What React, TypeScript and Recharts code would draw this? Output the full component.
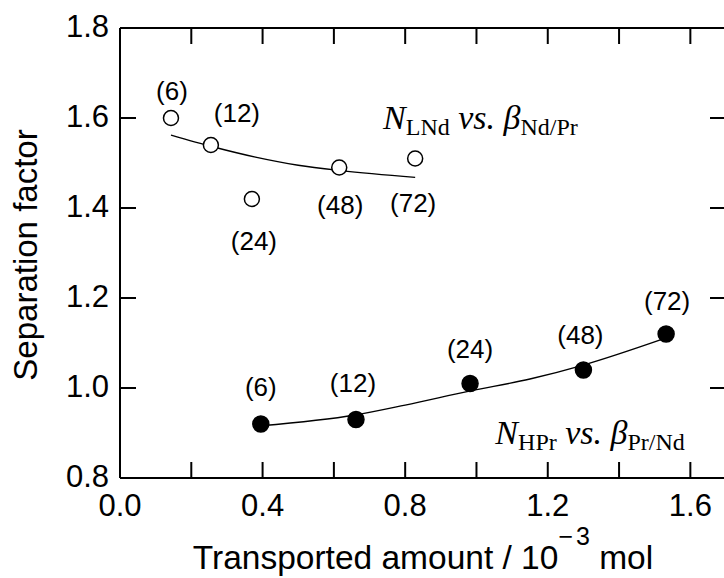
import React from 'react';
import {
  ComposedChart,
  XAxis,
  YAxis,
  Scatter,
  Line,
  ReferenceDot,
  ReferenceLine,
  Label,
} from 'recharts';

// Contact time (h) for each measurement
const hours = [6, 12, 24, 48, 72];

// N_LNd vs. beta_Nd/Pr (open circles)
const lndAmount = [0.143, 0.255, 0.37, 0.615, 0.828];
const ndPrFactor = [1.6, 1.54, 1.42, 1.49, 1.51];

// N_HPr vs. beta_Pr/Nd (filled circles)
const hprAmount = [0.395, 0.662, 0.982, 1.3, 1.532];
const prNdFactor = [0.92, 0.93, 1.01, 1.04, 1.12];

// Trend curves drawn through each set
const lndFitAmount = [0.143, 0.26, 0.38, 0.5, 0.62, 0.828];
const lndFitFactor = [1.562, 1.536, 1.513, 1.495, 1.483, 1.468];
const hprFitAmount = [0.395, 0.66, 0.8, 0.98, 1.15, 1.3, 1.52];
const hprFitFactor = [0.916, 0.94, 0.962, 0.993, 1.02, 1.051, 1.108];

// Axis ticks
const xTicks = [0, 0.2, 0.4, 0.6, 0.8, 1.0, 1.2, 1.4, 1.6];
const xTickLabels = [0, 0.4, 0.8, 1.2, 1.6];
const yTicks = [0.8, 1.0, 1.2, 1.4, 1.6, 1.8];
const X_MAX = 1.7;
const Y_MIN = 0.8;
const Y_MAX = 1.8;

// Placement of the "(h)" tags around each marker: [dx, dy to baseline]
const lndTagShift = [
  [1, -18],
  [26, -23],
  [2, 51],
  [1, 46],
  [-2, 53],
];
const hprTagShift = [
  [0, -28],
  [-3, -28],
  [0, -26],
  [-3, -26],
  [1, -24],
];

// Chart layout
const CHART_W = 740;
const CHART_H = 578;
const TOP = 28;
const RIGHT = 14;
const X_AXIS_H = 100;
const Y_AXIS_W = 120;
const PLOT_W = CHART_W - Y_AXIS_W - RIGHT;
const PLOT_H = CHART_H - TOP - X_AXIS_H;
const TICK = 16;

const SANS = '"Liberation Sans", Arial, Helvetica, sans-serif';
const SERIF = '"Liberation Serif", "Times New Roman", serif';

const toPoints = (xs: number[], ys: number[]) =>
  xs.map((x, i) => ({ x, y: ys[i] }));

const toTagged = (xs: number[], ys: number[], shift: number[][]) =>
  xs.map((x, i) => ({
    x,
    y: ys[i],
    tag: `(${hours[i]})`,
    dx: shift[i][0],
    dy: shift[i][1],
  }));

const lndPoints = toTagged(lndAmount, ndPrFactor, lndTagShift);
const hprPoints = toTagged(hprAmount, prNdFactor, hprTagShift);
const lndFit = toPoints(lndFitAmount, lndFitFactor);
const hprFit = toPoints(hprFitAmount, hprFitFactor);

const makeMarker = (filled: boolean) => (props: any) => {
  const { cx, cy, payload } = props;
  return (
    <g>
      <circle
        cx={cx}
        cy={cy}
        r={filled ? 8 : 7.5}
        fill={filled ? '#000' : '#fff'}
        stroke="#000"
        strokeWidth={1.5}
      />
      <text
        x={cx + payload.dx}
        y={cy + payload.dy}
        textAnchor="middle"
        fontFamily={SANS}
        fontSize={26}
        fill="#000"
      >
        {payload.tag}
      </text>
    </g>
  );
};

// Bottom axis tick: inward marks on the bottom and top frame edges, label below
const XTick = (props: any) => {
  const { x, y, payload } = props;
  const v = payload.value as number;
  const labelled = xTickLabels.some((t) => Math.abs(t - v) < 1e-6);
  return (
    <g>
      <line x1={x} y1={y} x2={x} y2={y - TICK} stroke="#000" strokeWidth={2} />
      <line x1={x} y1={y - PLOT_H} x2={x} y2={y - PLOT_H + TICK} stroke="#000" strokeWidth={2} />
      {labelled && (
        <text x={x} y={y + 38} textAnchor="middle" fontFamily={SANS} fontSize={31} fill="#000">
          {v.toFixed(1)}
        </text>
      )}
    </g>
  );
};

// Left axis tick: inward marks on the left and right frame edges, label to the left
const YTick = (props: any) => {
  const { x, y, payload } = props;
  return (
    <g>
      <line x1={x} y1={y} x2={x + TICK} y2={y} stroke="#000" strokeWidth={2} />
      <line x1={x + PLOT_W} y1={y} x2={x + PLOT_W - TICK} y2={y} stroke="#000" strokeWidth={2} />
      <text x={x - 11} y={y + 8.5} textAnchor="end" fontFamily={SANS} fontSize={31} fill="#000">
        {(payload.value as number).toFixed(1)}
      </text>
    </g>
  );
};

const XTitle = (props: any) => {
  const { x, y, width } = props.viewBox;
  return (
    <text
      x={x + width / 2}
      y={y + 91}
      textAnchor="middle"
      fontFamily={SANS}
      fontSize={33.5}
      fill="#000"
      style={{ whiteSpace: 'pre' }}
    >
      <tspan>Transported amount / 10</tspan>
      <tspan fontSize={25} dy={-24}>−</tspan>
      <tspan fontSize={25} dx={3}>3</tspan>
      <tspan dy={24}> mol</tspan>
    </text>
  );
};

const YTitle = (props: any) => {
  const { y, height } = props.viewBox;
  const cx = 37;
  const cy = y + height / 2 + 2;
  return (
    <text
      x={cx}
      y={cy}
      transform={`rotate(-90, ${cx}, ${cy})`}
      textAnchor="middle"
      fontFamily={SANS}
      fontSize={33}
      fill="#000"
    >
      Separation factor
    </text>
  );
};

const Caption = ({ cx, cy, subject, ratio }: any) => (
  <text x={cx} y={cy} fontFamily={SERIF} fontSize={34} fill="#000" style={{ whiteSpace: 'pre' }}>
    <tspan fontStyle="italic">N</tspan>
    <tspan fontSize={24} dy={6}>{subject}</tspan>
    <tspan fontStyle="italic" dy={-6}> vs. </tspan>
    <tspan fontStyle="italic">β</tspan>
    <tspan fontSize={24} dy={6}>{ratio}</tspan>
  </text>
);

const axisLine = { stroke: '#000', strokeWidth: 2 };

export default function App() {
  return (
    <div
      style={{
        position: 'absolute',
        left: 0,
        top: 0,
        width: 724,
        height: 578,
        overflow: 'hidden',
        background: '#fff',
      }}
    >
      <ComposedChart
        width={CHART_W}
        height={CHART_H}
        margin={{ top: TOP, right: RIGHT, bottom: 0, left: 0 }}
      >
        <XAxis
          xAxisId="bottom"
          type="number"
          dataKey="x"
          domain={[0, X_MAX]}
          ticks={xTicks}
          height={X_AXIS_H}
          tickSize={0}
          tickMargin={0}
          axisLine={axisLine}
          tickLine={false}
          tick={<XTick />}
        >
          <Label content={<XTitle />} />
        </XAxis>
        <YAxis
          yAxisId="left"
          type="number"
          dataKey="y"
          domain={[Y_MIN, Y_MAX]}
          ticks={yTicks}
          width={Y_AXIS_W}
          tickSize={0}
          tickMargin={0}
          axisLine={axisLine}
          tickLine={false}
          tick={<YTick />}
        >
          <Label content={<YTitle />} />
        </YAxis>

        {/* top and right edges of the frame */}
        <ReferenceLine xAxisId="bottom" yAxisId="left" y={Y_MAX} stroke="#000" strokeWidth={2} />
        <ReferenceLine xAxisId="bottom" yAxisId="left" x={X_MAX} stroke="#000" strokeWidth={2} />

        <Line
          xAxisId="bottom"
          yAxisId="left"
          data={lndFit}
          dataKey="y"
          type="monotone"
          stroke="#000"
          strokeWidth={1.4}
          dot={false}
          activeDot={false}
          isAnimationActive={false}
        />
        <Line
          xAxisId="bottom"
          yAxisId="left"
          data={hprFit}
          dataKey="y"
          type="monotone"
          stroke="#000"
          strokeWidth={1.4}
          dot={false}
          activeDot={false}
          isAnimationActive={false}
        />
        <Scatter
          xAxisId="bottom"
          yAxisId="left"
          data={lndPoints}
          dataKey="y"
          shape={makeMarker(false)}
          isAnimationActive={false}
        />
        <Scatter
          xAxisId="bottom"
          yAxisId="left"
          data={hprPoints}
          dataKey="y"
          shape={makeMarker(true)}
          isAnimationActive={false}
        />

        <ReferenceDot
          xAxisId="bottom"
          yAxisId="left"
          x={0.738}
          y={1.575}
          shape={(p: any) => <Caption cx={p.cx} cy={p.cy} subject="LNd" ratio="Nd/Pr" />}
        />
        <ReferenceDot
          xAxisId="bottom"
          yAxisId="left"
          x={1.053}
          y={0.876}
          shape={(p: any) => <Caption cx={p.cx} cy={p.cy} subject="HPr" ratio="Pr/Nd" />}
        />
      </ComposedChart>
    </div>
  );
}
